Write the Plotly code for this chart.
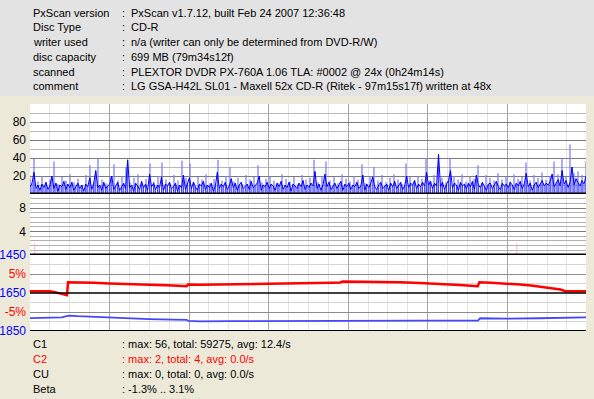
import numpy as np
import plotly.graph_objects as go

# ---------------- data ----------------
capacity_mb = 699

# C1 error rate (dark, one value every ~2.5 MB)
c1_dark = [
    8, 12, 24, 6, 10, 4, 11, 7, 13, 5, 9, 20, 6, 12, 3, 10, 8, 14, 5, 11,
    7, 13, 4, 9, 12, 6, 10, 3, 11, 8, 18, 5, 12, 26, 7, 10, 4, 13, 6, 9,
    11, 20, 5, 9, 13, 4, 8, 12, 6, 38, 7, 10, 3, 12, 9, 5, 14, 7, 11, 4,
    22, 8, 12, 5, 10, 7, 19, 4, 11, 9, 13, 6, 8, 12, 3, 10, 7, 21, 5, 11,
    18, 6, 13, 8, 4, 11, 9, 14, 5, 10, 7, 12, 3, 9, 24, 6, 11, 8, 13, 5,
    9, 17, 7, 12, 4, 10, 13, 6, 8, 11, 5, 14, 7, 9, 12, 20, 4, 10, 8, 13,
    6, 11, 9, 4, 12, 8, 14, 5, 10, 7, 13, 3, 11, 9, 6, 12, 8, 15, 5, 10,
    7, 12, 9, 25, 6, 11, 4, 10, 22, 8, 13, 5, 9, 12, 6, 10, 14, 4, 11, 8,
    12, 5, 10, 8, 13, 6, 9, 21, 4, 11, 7, 12, 19, 8, 5, 10, 13, 6, 9, 11,
    4, 12, 8, 14, 6, 10, 13, 5, 9, 20, 7, 12, 10, 15, 6, 11, 8, 13, 9, 24,
    10, 14, 6, 12, 9, 44, 8, 13, 5, 11, 15, 26, 7, 12, 10, 4, 13, 9, 11, 6,
    12, 8, 14, 5, 21, 10, 7, 13, 9, 4, 11, 12, 6, 10, 14, 8, 5, 12, 9, 11,
    7, 13, 10, 5, 12, 9, 14, 6, 11, 23, 8, 12, 4, 10, 13, 7, 11, 15, 9, 12,
    10, 14, 22, 8, 12, 16, 9, 26, 11, 15, 7, 13, 30, 10, 17, 12, 9, 15, 11, 20,
]

# C1 peaks (light, one value every ~5 MB)
c1_light = [
    18, 39, 14, 20, 12, 16, 36, 11, 19, 15, 22, 13, 17, 10, 21, 32, 14, 39, 16, 12,
    19, 33, 15, 20, 30, 13, 18, 22, 11, 17, 34, 14, 20, 35, 16, 12, 21, 15, 37, 18,
    34, 13, 19, 16, 22, 12, 17, 38, 15, 20, 30, 14, 18, 11, 21, 16, 19, 32, 13, 17,
    20, 15, 12, 22, 17, 14, 19, 11, 21, 16, 18, 38, 13, 20, 36, 15, 19, 12, 22, 17,
    14, 20, 16, 33, 12, 19, 30, 15, 21, 13, 18, 22, 16, 11, 34, 19, 14, 20, 17, 40,
    15, 21, 30, 18, 13, 40, 20, 16, 22, 14, 19, 17, 32, 12, 21, 18, 15, 23, 16, 20,
    14, 22, 17, 19, 35, 15, 21, 18, 24, 16, 20, 36, 22, 40, 19, 55, 23, 25, 21, 36,
]

# C2 events
c2_mb = [6, 612]
c2_vals = [2, 2]

# Beta (%)
beta_mb = [0, 10, 20, 25, 30, 35, 40, 44, 46.5, 47.8,
           55, 65, 80, 100, 120, 140, 160, 180, 197, 198.5,
           214, 240, 277, 300, 320, 339, 360, 380, 390, 393,
           396, 420, 445, 465, 490, 515, 540, 563, 565, 580,
           600, 616, 630, 641, 655, 667, 673, 690, 699]
beta_pct = [0.45, 0.5, 0.48, 0.45, 0.3, 0.0, -0.2, -0.45, -0.6, 2.84,
            2.84, 2.8, 2.7, 2.5, 2.4, 2.3, 2.2, 2.0, 1.8, 2.24,
            2.16, 2.3, 2.4, 2.45, 2.5, 2.5, 2.6, 2.7, 2.76, 3.0,
            3.0, 2.95, 2.9, 2.84, 2.6, 2.4, 2.1, 1.8, 2.84, 2.7,
            2.5, 2.24, 2.0, 1.63, 1.3, 0.92, 0.47, 0.47, 0.47]

# blue curve on the 1450..1850 scale
jit_mb = [0, 20, 40, 46, 50, 60, 80, 100, 120, 150,
          180, 197, 199, 214, 250, 290, 330, 370, 410, 450,
          490, 530, 563, 566, 600, 640, 680, 699]
jit_vals = [1782, 1781, 1778, 1772, 1769, 1772, 1776, 1780, 1783, 1787,
            1790, 1791, 1797, 1799, 1798, 1797, 1796, 1795, 1796, 1796,
            1795, 1795, 1795, 1783, 1785, 1783, 1780, 1778]

c1_ticks = [20, 40, 60, 80]
c1_minor = [10, 30, 50, 70, 90]
c2_ticks = [4, 8]
beta_ticks = [-5, 5]
beta_ticktext = ["-5%", "5%"]
beta_minor = [-7.5, -2.5, 2.5, 7.5]
jit_ticks = [1450, 1650, 1850]
jit_range = [1850, 1450]

header_labels = ["PxScan version", "Disc Type", "writer used",
                 "disc capacity", "scanned", "comment"]
header_values = ["PxScan v1.7.12, built Feb 24 2007 12:36:48",
                 "CD-R",
                 "n/a (writer can only be determined from DVD-R/W)",
                 "699 MB (79m34s12f)",
                 "PLEXTOR DVDR PX-760A 1.06 TLA: #0002 @ 24x (0h24m14s)",
                 "LG GSA-H42L SL01 - Maxell 52x CD-R (Ritek - 97m15s17f) written at 48x"]
stat_labels = ["C1", "C2", "CU", "Beta"]
stat_values = [": max: 56, total: 59275, avg: 12.4/s",
               ": max: 2, total: 4, avg: 0.0/s",
               ": max: 0, total: 0, avg: 0.0/s",
               ": -1.3% .. 3.1%"]
stat_colors = ["#000000", "#ff0000", "#000000", "#000000"]

# ---------------- layout geometry ----------------
W, H = 594, 399
L, R, T, B = 30, 8, 104, 68
PW, PH = W - L - R, H - T - B
FONT = "Liberation Sans"


def fx(px):
    return (px - L) / PW


def fy(py):
    return (H - B - py) / PH


def stems(xs, ys):
    """vertical strokes from 0 up to each sample value"""
    sx, sy = [], []
    for a, b in zip(xs, ys):
        sx += [a, a, None]
        sy += [0, b, None]
    return sx, sy


fig = go.Figure()

light_x = np.linspace(0, capacity_mb, len(c1_light))
dark_x = np.linspace(0, capacity_mb, len(c1_dark))

lx, ly = stems(light_x, c1_light)
fig.add_trace(go.Scatter(x=lx, y=ly, mode="lines",
                         line=dict(color="#8080ff", width=1.3), yaxis="y"))
sx, sy = stems(dark_x, c1_dark)
fig.add_trace(go.Scatter(x=sx, y=sy, mode="lines",
                         line=dict(color="#4040ff", width=1), yaxis="y"))
fig.add_trace(go.Scatter(x=dark_x, y=c1_dark, mode="lines",
                         line=dict(color="#0000ff", width=1), yaxis="y"))

c2x, c2y = stems(c2_mb, c2_vals)
fig.add_trace(go.Scatter(x=c2x, y=c2y, mode="lines",
                         line=dict(color="#ffb0b0", width=1), yaxis="y2"))

fig.add_trace(go.Scatter(x=jit_mb, y=jit_vals, mode="lines",
                         line=dict(color="#4646ff", width=1.8), yaxis="y4"))
fig.add_trace(go.Scatter(x=beta_mb, y=beta_pct, mode="lines",
                         line=dict(color="#ff0000", width=2.5), yaxis="y3"))

tickfont = dict(family=FONT, size=12, color="#000000")

fig.update_layout(
    template="none",
    width=W, height=H,
    margin=dict(l=L, r=R, t=T, b=B, pad=0, autoexpand=False),
    paper_bgcolor="#ece9d8", plot_bgcolor="#ffffff",
    showlegend=False, hovermode=False,
    xaxis=dict(range=[0, capacity_mb], showticklabels=False, ticks="", automargin=False,
               showgrid=True, gridcolor="#a6a6a6", gridwidth=1, dtick=100, tick0=0,
               zeroline=False, showline=False,
               minor=dict(dtick=25, tick0=0, showgrid=True, gridcolor="#e4e4e4", gridwidth=1)),
    yaxis=dict(domain=[fy(194), 1], range=[0, 100], tickvals=c1_ticks, automargin=False,
               ticks="", showgrid=True, gridcolor="#7c7c7c", gridwidth=1,
               zeroline=False, showline=False, tickfont=tickfont, ticklabelstandoff=3,
               minor=dict(tickvals=c1_minor, showgrid=True, gridcolor="#b8b8b8")),
    yaxis2=dict(domain=[fy(255), fy(194)], range=[0, 10.4], tickvals=c2_ticks,
                automargin=False,
                ticks="", showgrid=True, gridcolor="#7c7c7c", gridwidth=1,
                zeroline=False, showline=False, tickfont=tickfont, ticklabelstandoff=3,
                minor=dict(tickvals=[round(0.8 * k, 2) for k in range(1, 13)],
                           showgrid=True, gridcolor="#b0b0b0")),
    yaxis3=dict(domain=[0, fy(255)], range=[-10, 10], tickvals=beta_ticks,
                ticktext=beta_ticktext, ticks="", showgrid=True, gridcolor="#8c8c8c",
                zeroline=False, showline=False, automargin=False,
                tickfont=dict(family=FONT, size=12, color="#ff0000"), ticklabelstandoff=3,
                minor=dict(tickvals=beta_minor, showgrid=True, gridcolor="#d4d4d4")),
    yaxis4=dict(overlaying="y3", side="left", anchor="x", range=jit_range,
                tickvals=jit_ticks, ticks="", showgrid=False, zeroline=False,
                showline=False, automargin=False,
                tickfont=dict(family=FONT, size=12, color="#0000ff"),
                ticklabelstandoff=3),
)

# header background
fig.add_shape(type="rect", xref="paper", yref="paper",
              x0=fx(0), x1=fx(W), y0=fy(96), y1=fy(0),
              fillcolor="#e3e3e3", line=dict(width=0), layer="below")

# heavy separator lines
fig.add_shape(type="line", xref="paper", yref="y", x0=0, x1=1, y0=0, y1=0,
              line=dict(color="#000000", width=3))
fig.add_shape(type="line", xref="paper", yref="y2", x0=0, x1=1, y0=0, y1=0,
              line=dict(color="#000000", width=3))
fig.add_shape(type="line", xref="paper", yref="y3", x0=0, x1=1, y0=0, y1=0,
              line=dict(color="#000000", width=1.5))
fig.add_shape(type="line", xref="paper", yref="y3", x0=0, x1=1, y0=-10, y1=-10,
              line=dict(color="#000000", width=2))

txtfont = dict(family=FONT, size=11, color="#000000")
header_rows = [12.5, 27, 42, 56.5, 71.5, 86]
for lab, val, py in zip(header_labels, header_values, header_rows):
    fig.add_annotation(x=fx(31), y=fy(py), xref="paper", yref="paper", text=lab,
                       showarrow=False, xanchor="left", yanchor="middle", font=txtfont)
    fig.add_annotation(x=fx(120), y=fy(py), xref="paper", yref="paper", text=":",
                       showarrow=False, xanchor="left", yanchor="middle", font=txtfont)
    fig.add_annotation(x=fx(129), y=fy(py), xref="paper", yref="paper", text=val,
                       showarrow=False, xanchor="left", yanchor="middle", font=txtfont)

stat_rows = [343.5, 358.5, 373.5, 388.5]
for lab, val, col, py in zip(stat_labels, stat_values, stat_colors, stat_rows):
    f = dict(family=FONT, size=11, color=col)
    fig.add_annotation(x=fx(31), y=fy(py), xref="paper", yref="paper", text=lab,
                       showarrow=False, xanchor="left", yanchor="middle", font=f)
    fig.add_annotation(x=fx(120), y=fy(py), xref="paper", yref="paper", text=val,
                       showarrow=False, xanchor="left", yanchor="middle", font=f)

fig.write_html("out.html")
